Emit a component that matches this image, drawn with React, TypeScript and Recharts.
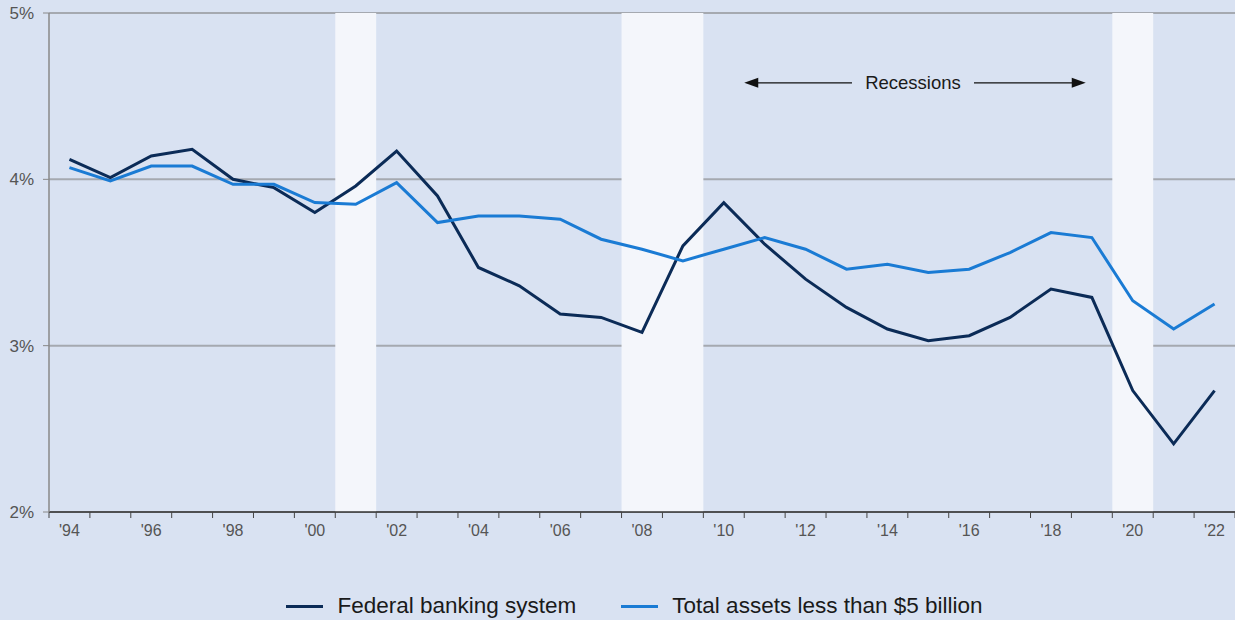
import React from "react";
import {
  CartesianGrid,
  Legend,
  Line,
  LineChart,
  ReferenceArea,
  ReferenceLine,
  XAxis,
  YAxis,
} from "recharts";

const years = [
  1994, 1995, 1996, 1997, 1998, 1999, 2000, 2001, 2002, 2003, 2004, 2005, 2006, 2007, 2008,
  2009, 2010, 2011, 2012, 2013, 2014, 2015, 2016, 2017, 2018, 2019, 2020, 2021, 2022,
];
const federal = [
  4.12, 4.01, 4.14, 4.18, 4.0, 3.95, 3.8, 3.96, 4.17, 3.9, 3.47, 3.36, 3.19, 3.17, 3.08,
  3.6, 3.86, 3.61, 3.4, 3.23, 3.1, 3.03, 3.06, 3.17, 3.34, 3.29, 2.73, 2.41, 2.73,
];
const small = [
  4.07, 3.99, 4.08, 4.08, 3.97, 3.97, 3.86, 3.85, 3.98, 3.74, 3.78, 3.78, 3.76, 3.64, 3.58,
  3.51, 3.58, 3.65, 3.58, 3.46, 3.49, 3.44, 3.46, 3.56, 3.68, 3.65, 3.27, 3.1, 3.25,
];
const recessions = [
  [2000.5, 2001.5],
  [2007.5, 2009.5],
  [2019.5, 2020.5],
];
const yTicks = [2, 3, 4, 5];
const xBounds = [...years.map((y) => y - 0.5), 2022.5];

const data = years.map((year, i) => ({ year, federal: federal[i], small: small[i] }));

const W = 1235;
const H = 620;
const LEFT = 49;
const BAND = (W - LEFT) / years.length;
const BG = "#d9e2f2";
const DARK = "#0b2b57";
const LIGHT = "#1a7bd4";

function XTick({ x, y, payload }: any) {
  const year = payload.value + 0.5;
  if (year > 2022 || year % 2 !== 0) return null;
  return (
    <text
      x={x + BAND / 2}
      y={y}
      dy={16}
      textAnchor="middle"
      fontSize={16}
      fill="#555"
      fontFamily="Liberation Sans, Arial, sans-serif"
    >
      {"'" + String(year).slice(2)}
    </text>
  );
}

function RecessionArrows({ x1, x2, y1 }: any) {
  const left = Math.min(x1, x2);
  const right = Math.max(x1, x2);
  const mid = (left + right) / 2;
  const y = y1;
  return (
    <g>
      <line x1={mid - 63} y1={y} x2={left + 12} y2={y} stroke="#111" strokeWidth={1.3} />
      <polygon points={`${left},${y} ${left + 14},${y - 5} ${left + 14},${y + 5}`} fill="#111" />
      <line x1={mid + 59} y1={y} x2={right - 12} y2={y} stroke="#111" strokeWidth={1.3} />
      <polygon points={`${right},${y} ${right - 14},${y - 5} ${right - 14},${y + 5}`} fill="#111" />
      <text
        x={mid - 2}
        y={y}
        dy={6.5}
        textAnchor="middle"
        fontSize={18.5}
        fill="#1a1a1a"
        fontFamily="Liberation Sans, Arial, sans-serif"
      >
        Recessions
      </text>
    </g>
  );
}

function LegendBox() {
  const items = [
    { label: "Federal banking system", color: DARK },
    { label: "Total assets less than $5 billion", color: LIGHT },
  ];
  return (
    <div
      style={{
        display: "flex",
        justifyContent: "center",
        gap: 45,
        paddingTop: 23,
        paddingLeft: 34,
        height: 27,
        fontFamily: "Liberation Sans, Arial, sans-serif",
        fontSize: 22.5,
        lineHeight: 1,
        color: "#1a1a1a",
      }}
    >
      {items.map((it) => (
        <div key={it.label} style={{ display: "flex", alignItems: "center", gap: 14 }}>
          <div style={{ width: 37, height: 3, background: it.color }} />
          <span>{it.label}</span>
        </div>
      ))}
    </div>
  );
}

export default function App() {
  return (
    <div style={{ position: "fixed", left: 0, top: 0, width: W, height: H, background: BG }}>
      <LineChart width={W} height={H} data={data} margin={{ top: 13, right: 0, left: 0, bottom: 0 }}>
        <CartesianGrid vertical={false} stroke="#a5a9b0" strokeWidth={2} />
        {recessions.map(([a, b]) => (
          <ReferenceArea
            key={a}
            x1={a}
            x2={b}
            y1={2}
            y2={5}
            fill="#f4f6fb"
            fillOpacity={1}
            stroke="none"
          />
        ))}
        <XAxis
          dataKey="year"
          type="number"
          domain={[1993.5, 2022.5]}
          ticks={xBounds}
          interval={0}
          height={58}
          tick={<XTick />}
          tickSize={6}
          tickLine={{ stroke: "#444" }}
          axisLine={{ stroke: "#333", strokeWidth: 1.5 }}
        />
        <YAxis
          domain={[2, 5]}
          ticks={yTicks}
          width={LEFT}
          tickFormatter={(v) => `${v}%`}
          tickSize={6}
          tickMargin={9}
          tick={{ fontSize: 17, fill: "#555", fontFamily: "Liberation Sans, Arial, sans-serif" }}
          tickLine={{ stroke: "#888" }}
          axisLine={{ stroke: "#888", strokeWidth: 1.5 }}
          allowDataOverflow
        />
        <ReferenceLine
          segment={[
            { x: 2010.5, y: 4.58 },
            { x: 2018.85, y: 4.58 },
          ]}
          shape={<RecessionArrows />}
        />
        <Line
          dataKey="federal"
          stroke={DARK}
          strokeWidth={3}
          dot={false}
          isAnimationActive={false}
          strokeLinejoin="miter"
        />
        <Line
          dataKey="small"
          stroke={LIGHT}
          strokeWidth={3}
          dot={false}
          isAnimationActive={false}
          strokeLinejoin="miter"
        />
        <Legend verticalAlign="bottom" height={50} content={<LegendBox />} />
      </LineChart>
    </div>
  );
}
